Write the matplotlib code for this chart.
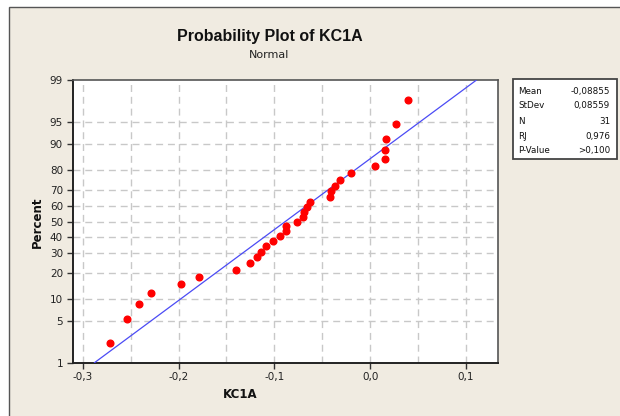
import numpy as np
import matplotlib
matplotlib.use("Agg")
import matplotlib.pyplot as plt
from matplotlib.patches import Rectangle
from statistics import NormalDist

# KC1A sample values (sorted)
kc1a = [-0.2715, -0.2538, -0.2409, -0.2291, -0.1978, -0.1787, -0.1396,
        -0.1255, -0.1176, -0.1136, -0.1089, -0.1018, -0.0945, -0.0882,
        -0.0875, -0.0767, -0.0701, -0.0689, -0.0663, -0.0632, -0.0418,
        -0.0406, -0.0367, -0.0318, -0.0196, 0.0047, 0.0154, 0.0158,
        0.0165, 0.0269, 0.0398]

fit_mean = -0.08855
fit_std = 0.08559

pct_ticks = [1, 5, 10, 20, 30, 40, 50, 60, 70, 80, 90, 95, 99]
x_ticks = [-0.3, -0.2, -0.1, 0.0, 0.1]
x_grid = [-0.3, -0.25, -0.2, -0.15, -0.1, -0.05, 0.0, 0.05, 0.1]

stat_labels = ["Mean", "StDev", "N", "RJ", "P-Value"]
stat_values = ["-0,08855", "0,08559", "31", "0,976", ">0,100"]

BG = "#F0EBE1"
FONT = "DejaVu Sans"
BOLD = "Liberation Sans"
nd = NormalDist()


def zscore(p):
    return nd.inv_cdf(p / 100.0)


def comma(v):
    return f"{v:.1f}".replace(".", ",")


fig = plt.figure(figsize=(6.2, 4.16), dpi=100, facecolor="white")
W, H = 620.0, 416.0

# window-like frame
fig.patches.append(Rectangle((9 / W, -0.1), 1.2, (416 - 7) / H + 0.1,
                             transform=fig.transFigure, facecolor=BG,
                             edgecolor="#555555", linewidth=1.0, zorder=-10))

ax = fig.add_axes([72.7 / W, 1 - 362.7 / H, 425.6 / W, 282.4 / H])
ax.set_zorder(1)
ax.set_facecolor("white")

# median ranks -> normal scores
n = len(kc1a)
ranks = np.arange(1, n + 1)
pos = (ranks - 0.3) / (n + 0.4) * 100
zpts = [zscore(p) for p in pos]

zlo, zhi = zscore(1), zscore(99)
zline = np.linspace(zlo, zhi, 50)
xline = fit_mean + fit_std * zline

ax.plot(xline, zline, color="#4B4BF5", lw=0.9, zorder=3)
ax.plot(kc1a, zpts, "o", color="#FF0000", ms=4.8, mec="#FF0000", zorder=4)

ax.set_xlim(-0.3104, 0.1337)
ax.set_ylim(zlo, zhi)

for g in x_grid:
    ax.axvline(g, color="#C8C8C8", lw=1.0, ls=(0, (5, 3.5)), zorder=1)
for p in pct_ticks[1:-1]:
    ax.axhline(zscore(p), color="#C8C8C8", lw=1.0, ls=(0, (5, 3.5)), zorder=1)

ax.set_yticks([zscore(p) for p in pct_ticks])
ax.set_yticklabels([str(p) for p in pct_ticks])
ax.set_xticks(x_ticks)
ax.set_xticklabels([comma(v) for v in x_ticks])
ax.tick_params(axis="both", direction="out", length=4, width=1,
               color="#333333", labelsize=7.5, labelcolor="#222222", pad=3)
for lab in ax.get_xticklabels() + ax.get_yticklabels():
    lab.set_fontfamily(FONT)

for side in ["left", "bottom"]:
    ax.spines[side].set_color("#222222")
    ax.spines[side].set_linewidth(1.4)
for side in ["top", "right"]:
    ax.spines[side].set_color("#555555")
    ax.spines[side].set_linewidth(1.2)

fig.text(270 / W, 1 - 37 / H, "Probability Plot of KC1A", ha="center",
         va="center", fontsize=11.5, fontweight="bold", family=BOLD,
         color="#111111")
fig.text(269 / W, 1 - 55 / H, "Normal", ha="center", va="center",
         fontsize=8, family=FONT, color="#222222")
fig.text(240 / W, 1 - 394 / H, "KC1A", ha="center", va="center",
         fontsize=8.5, fontweight="bold", family=FONT, color="#111111")
fig.text(37 / W, 1 - 222 / H, "Percent", ha="center", va="center",
         rotation=90, fontsize=8.5, fontweight="bold", family=FONT,
         color="#111111")

# stats box
fig.patches.append(Rectangle((512.7 / W, 1 - 159.3 / H), 104.6 / W, 80 / H,
                             transform=fig.transFigure, facecolor="white",
                             edgecolor="#444444", linewidth=1.3, zorder=2))
rows_y = [91.7, 105.7, 121.2, 136.2, 150.7]
for lab, val, yy in zip(stat_labels, stat_values, rows_y):
    fig.text(518 / W, 1 - yy / H, lab, ha="left", va="center",
             fontsize=6.3, family=FONT, color="#111111", zorder=3)
    fig.text(610 / W, 1 - yy / H, val, ha="right", va="center",
             fontsize=6.3, family=FONT, color="#111111", zorder=3)

fig.savefig("out.png", dpi=100, facecolor=fig.get_facecolor())
